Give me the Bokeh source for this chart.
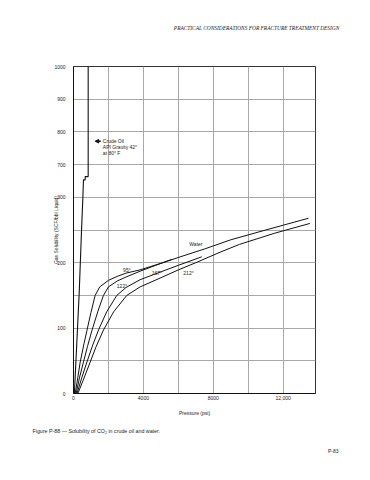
import numpy as np
from bokeh.plotting import figure
from bokeh.models import Range1d, FixedTicker, Label, Title, Arrow, NormalHead
from bokeh.embed import file_html
from bokeh.resources import INLINE

# ---------------- data ----------------
x_ticks = [0, 2000, 4000, 6000, 8000, 10000, 12000]
x_tick_labels = {0: "0", 4000: "4000", 8000: "8000", 12000: "12,000"}
y_ticks = [0, 50, 100, 150, 200, 250, 300, 700, 800, 900, 1000]
y_tick_labels = {0: "0", 100: "100", 200: "200", 300: "300", 700: "700", 800: "800", 900: "900", 1000: "1000"}

# broken y axis: real values -> plot units
y_break_real = [0, 300, 700, 1000]
y_break_plot = [0, 6, 7, 10]

crude_p = [50, 330, 460, 537, 571, 669, 669, 840, 840]
crude_v = [0, 156, 250, 300, 513, 513, 553, 553, 1000]

w95_p = [100, 250, 383, 600, 766, 1000, 1240, 1500, 2000, 2500, 3000, 3800, 5000, 6000, 7500, 9000, 11000, 13450]
w95_v = [0, 25, 48, 76, 96, 124, 150, 163, 173, 179, 184, 189, 199, 208, 221, 235, 250, 268]

w122_p = [150, 350, 571, 800, 1051, 1400, 1714, 2000, 2500, 3000, 3811, 4700, 5620]
w122_v = [0, 25, 48, 72, 96, 126, 150, 163, 172, 178, 187, 196, 205]

w167_p = [200, 450, 766, 1100, 1429, 1900, 2480, 3000, 3811, 5000, 6000, 7337]
w167_v = [0, 22, 48, 74, 97, 125, 150, 162, 174, 186, 196, 209]

w212_p = [250, 550, 954, 1300, 1714, 2300, 3051, 3811, 5000, 6000, 7000, 8383, 9500, 11500, 13526]
w212_v = [0, 20, 48, 72, 97, 125, 150, 163, 177, 189, 200, 216, 228, 245, 260]

header_text = "PRACTICAL CONSIDERATIONS FOR FRACTURE TREATMENT DESIGN"
caption_text = "Figure P-88 — Solubility of CO₂ in crude oil and water."
page_text = "P-83"


def yu(v):
    return np.interp(v, y_break_real, y_break_plot)


FONT = "Liberation Sans"

p = figure(width=362, height=472, output_backend="svg", toolbar_location=None,
           x_range=Range1d(0, 13850), y_range=Range1d(0, 10),
           min_border_left=73, min_border_right=47, min_border_top=66, min_border_bottom=79,
           background_fill_color="white", border_fill_color="white")

p.outline_line_color = "#333333"
p.outline_line_width = 1

# axes
p.xaxis.ticker = FixedTicker(ticks=x_ticks)
p.xaxis.major_label_overrides = {t: x_tick_labels.get(t, "") for t in x_ticks}
p.yaxis.ticker = FixedTicker(ticks=[float(yu(t)) for t in y_ticks])
p.yaxis.major_label_overrides = {float(yu(t)): y_tick_labels.get(t, "") for t in y_ticks}
for ax in (p.xaxis, p.yaxis):
    ax.major_tick_line_color = None
    ax.minor_tick_line_color = None
    ax.major_tick_out = 0
    ax.major_tick_in = 0
    ax.axis_line_color = "#111111"
    ax.major_label_text_font = FONT
    ax.major_label_text_font_size = "5px"
    ax.major_label_text_color = "#222222"
    ax.axis_label_text_font = FONT
    ax.axis_label_text_font_size = "5px"
    ax.axis_label_text_font_style = "normal"
    ax.axis_label_text_color = "#222222"
p.xaxis.major_label_standoff = 2
p.xaxis.axis_label = "Pressure (psi)"
p.xaxis.axis_label_standoff = 7
p.yaxis.major_label_standoff = 8
p.yaxis.axis_label = "Gas Solubility (SCF/bbl Liquid)"
p.yaxis.axis_label_standoff = -8

p.grid.grid_line_color = "#a8a8a8"
p.grid.grid_line_width = 1

# curves
p.line(crude_p, yu(crude_v), line_color="#111111", line_width=1.1)
for xs, vs in ((w95_p, w95_v), (w122_p, w122_v), (w167_p, w167_v), (w212_p, w212_v)):
    p.line(xs, yu(vs), line_color="#111111", line_width=1)


def lab(x, y, text, size="5px", align="left", base="middle", style="normal", font=FONT):
    p.add_layout(Label(x=x, y=y, text=text, text_font=font,
                       text_font_size=size, text_align=align, text_baseline=base,
                       text_font_style=style, text_color="#222222"))


# curve labels
lab(2840, float(yu(189)), "95°")
lab(2480, float(yu(165)), "122°")
lab(4480, float(yu(185)), "167°")
lab(6286, float(yu(185)), "212°")
lab(6629, float(yu(229)), "Water")

# crude oil annotation
lab(1680, float(yu(771.5)), "Crude Oil")
lab(1680, float(yu(754)), "API Gravity 42°")
lab(1680, float(yu(736.6)), "at 80° F")
p.add_layout(Arrow(x_start=1560, y_start=float(yu(771.5)), x_end=1240, y_end=float(yu(771.5)),
                   line_color="#111111", line_width=1.5,
                   end=NormalHead(size=3.5, fill_color="#111111", line_color="#111111")))

# page furniture as titles in the borders
p.add_layout(Title(text=header_text + "\n " * 5, align="right", vertical_align="bottom",
                   offset=-24, standoff=0, text_font="Liberation Serif", text_font_size="5.4px",
                   text_line_height=1.2, text_font_style="italic", text_color="#222222"), "above")
p.add_layout(Title(text=caption_text, align="left", vertical_align="bottom", offset=-41, standoff=14,
                   text_font=FONT, text_font_size="5.3px", text_font_style="normal",
                   text_color="#222222"), "below")
p.add_layout(Title(text=page_text, align="right", vertical_align="bottom", offset=-23, standoff=10,
                   text_font=FONT, text_font_size="5px", text_font_style="normal",
                   text_color="#222222"), "below")

open("out.html", "w").write(file_html(p, INLINE))
